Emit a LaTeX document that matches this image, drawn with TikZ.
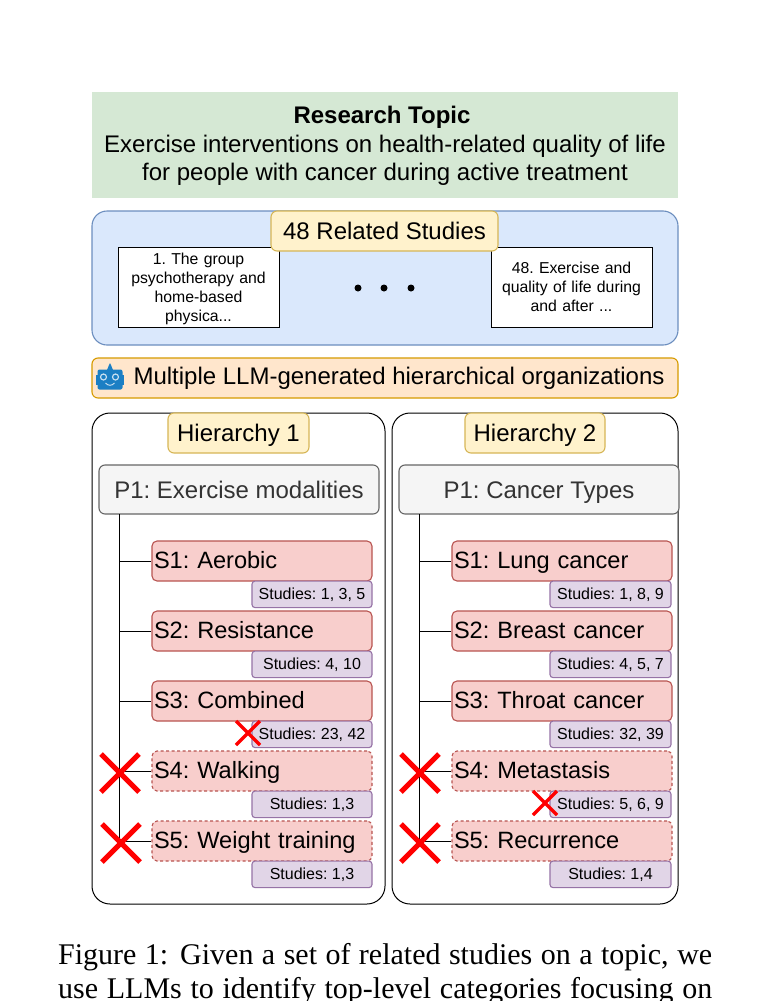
\documentclass[tikz,border=0pt]{standalone}
\usepackage{fontspec}
\setmainfont{Liberation Serif}
\setsansfont{Liberation Sans}
\usetikzlibrary{positioning}

\definecolor{topicgreen}{HTML}{D5E8D4}
\definecolor{panelblue}{HTML}{DAE8FC}
\definecolor{panelline}{HTML}{6C8EBF}
\definecolor{tagyellow}{HTML}{FFF2CC}
\definecolor{tagline}{HTML}{D6B656}
\definecolor{barorange}{HTML}{FFE6CC}
\definecolor{barline}{HTML}{D79B00}
\definecolor{subred}{HTML}{F8CECC}
\definecolor{subline}{HTML}{B85450}
\definecolor{refpurple}{HTML}{E1D5E7}
\definecolor{refline}{HTML}{9673A6}
\definecolor{botblue}{HTML}{1B7FC4}

\tikzset{
  basebox/.style={inner sep=0pt, line width=1.1pt, font=\sffamily\frenchspacing\fontsize{24}{28.5}\selectfont},
  tag/.style={basebox, draw=tagline, fill=tagyellow, rounded corners=6pt, minimum height=40pt,
    text height=18pt, text depth=2pt},
  paper/.style={basebox, line width=1pt, draw=black, fill=white, minimum width=161pt, minimum height=80pt,
    text width=150pt, align=center, font=\sffamily\frenchspacing\fontsize{15.8}{19}\selectfont},
  parentcat/.style={basebox, draw=black!60, fill=black!4, text=black!80, rounded corners=6pt,
    minimum height=49pt, text height=18pt, text depth=1pt},
  subcat/.style={basebox, draw=subline, fill=subred, rounded corners=5pt, minimum width=220pt,
    minimum height=40pt, text width=216pt, align=left, text height=18pt, text depth=3pt,
    font=\sffamily\frenchspacing\fontsize{23.6}{28}\selectfont},
  dropped/.style={subcat, dash pattern=on 3pt off 2.5pt},
  refs/.style={basebox, draw=refline, fill=refpurple, rounded corners=3pt, minimum width=120pt,
    minimum height=26.5pt, font=\sffamily\frenchspacing\fontsize{16}{18}\selectfont,
    text height=11.5pt, text depth=2pt},
  hpanel/.style={draw=black, line width=1pt, rounded corners=18pt},
  branch/.style={draw=black, line width=1pt},
  cross/.style={draw=red, line width=#1},
  cross/.default=5pt,
  caption/.style={inner sep=0pt, anchor=base west, font=\rmfamily\fontsize{30}{34}\selectfont}
}

\begin{document}
\begin{tikzpicture}[x=1pt, y=-1pt, node distance=70pt, on grid]
  \useasboundingbox (0,0) rectangle (771,1001);
  \fill[white] (0,0) rectangle (771,1001);

  % topic
  \node[basebox, fill=topicgreen, minimum width=586pt, minimum height=106pt, align=center] (topic) at (385,145)
    {\rule{0pt}{19.5pt}\hspace*{-6pt}\textbf{Research Topic}\\Exercise interventions on health-related quality of life\\for people with cancer during active treatment};

  % studies
  \node[basebox, draw=panelline, fill=panelblue, rounded corners=15pt, minimum width=586pt, minimum height=134pt] (studies) at (385,278) {};
  \node[paper] (first) at (198.5,287) {\rule{0pt}{15.5pt}1. The group\\psychotherapy and\\home-based\\physica...};
  \node[paper] (last) at (571.5,287) {48. Exercise and\\quality of life during\\and after ...};
  \node[tag, minimum width=227pt] (related) at (384.5,231) {48 Related Studies};
  \foreach \x in {358,384,411}
    \fill (\x,288) circle (3.5pt);

  % LLM bar
  \node[basebox, draw=barline, fill=barorange, rounded corners=6pt, minimum width=586pt, minimum height=40pt] (llm) at (385,378) {};
  \node[basebox, anchor=west] (llmtext) at (133,378) {Multiple LLM-generated hierarchical organizations};

  % robot
  \fill[botblue] (107,370) -- (109,365) -- (110,363) -- (111,365) -- (113,370) -- cycle;
  \fill[botblue] (96,375) rectangle (124,385);
  \fill[botblue, rounded corners=2pt] (97.5,369.5) rectangle (122.5,389.5);
  \draw[white!75!botblue, line width=1.2pt] (103.5,377) circle (3pt) (115.5,377) circle (3pt);
  \draw[white!75!botblue, line width=1pt] (105.5,383) .. controls (108,386) and (112,386) .. (114.5,383);

  % left hierarchy
  \node[hpanel, minimum width=293pt, minimum height=491pt] (hone) at (238.5,658.5) {};
  \node[tag, minimum width=141pt] (tagone) at (238.5,433) {Hierarchy 1};
  \node[parentcat, minimum width=280pt] (pone) at (239,489.5) {P1: Exercise modalities};
  \node[subcat] (sa1) at (262,561) {S1: Aerobic};
  \node[subcat, below=of sa1] (sa2) {S2: Resistance};
  \node[subcat, below=of sa2] (sa3) {S3: Combined};
  \node[dropped, below=of sa3] (sa4) {S4: Walking};
  \node[dropped, below=of sa4] (sa5) {S5: Weight training};
  \node[refs, below left=-1pt and 0pt of sa1.south east, anchor=north east] (ra1) {Studies: 1, 3, 5};
  \node[refs, below left=-1pt and 0pt of sa2.south east, anchor=north east] (ra2) {Studies: 4, 10};
  \node[refs, below left=-1pt and 0pt of sa3.south east, anchor=north east] (ra3) {Studies: 23, 42};
  \node[refs, below left=-1pt and 0pt of sa4.south east, anchor=north east] (ra4) {Studies: 1,3};
  \node[refs, below left=-1pt and 0pt of sa5.south east, anchor=north east] (ra5) {Studies: 1,3};
  \coordinate (ta) at (119,514);
  \foreach \i in {1,...,5}
    \draw[branch] (ta) |- (sa\i.west);

  % right hierarchy
  \node[hpanel, minimum width=286pt, minimum height=491pt] (htwo) at (535,658.5) {};
  \node[tag, minimum width=140pt] (tagtwo) at (535,433) {Hierarchy 2};
  \node[parentcat, minimum width=280pt] (ptwo) at (539,489.5) {P1: Cancer Types};
  \node[subcat] (sb1) at (562,561) {S1: Lung cancer};
  \node[subcat, below=of sb1] (sb2) {S2: Breast cancer};
  \node[subcat, below=of sb2] (sb3) {S3: Throat cancer};
  \node[dropped, below=of sb3] (sb4) {S4: Metastasis};
  \node[dropped, below=of sb4] (sb5) {S5: Recurrence};
  \node[refs, minimum width=121pt, below left=-1pt and 1pt of sb1.south east, anchor=north east] (rb1) {Studies: 1, 8, 9};
  \node[refs, minimum width=121pt, below left=-1pt and 1pt of sb2.south east, anchor=north east] (rb2) {Studies: 4, 5, 7};
  \node[refs, minimum width=121pt, below left=-1pt and 1pt of sb3.south east, anchor=north east] (rb3) {Studies: 32, 39};
  \node[refs, minimum width=121pt, below left=-1pt and 1pt of sb4.south east, anchor=north east] (rb4) {Studies: 5, 6, 9};
  \node[refs, minimum width=121pt, below left=-1pt and 1pt of sb5.south east, anchor=north east] (rb5) {Studies: 1,4};
  \coordinate (tb) at (419,514);
  \foreach \i in {1,...,5}
    \draw[branch] (tb) |- (sb\i.west);

  % crosses
  \foreach \x/\y in {120/773, 121/843, 420/773, 420/843}
    \draw[cross] (\x-19,\y-19) -- (\x+19,\y+19) (\x-19,\y+19) -- (\x+19,\y-19);
  \foreach \x/\y in {248/733, 545/803}
    \draw[cross=3.5pt] (\x-12,\y-12) -- (\x+12,\y+12) (\x-12,\y+12) -- (\x+12,\y-12);

  % caption
  \node[caption] (capone) at (58,964) {\makebox[654pt][s]{Figure 1: Given a set of related studies on a topic, we}};
  \node[caption] (captwo) at (58,998) {\makebox[654pt][s]{use LLMs to identify top-level categories focusing on}};
\end{tikzpicture}
\end{document}
